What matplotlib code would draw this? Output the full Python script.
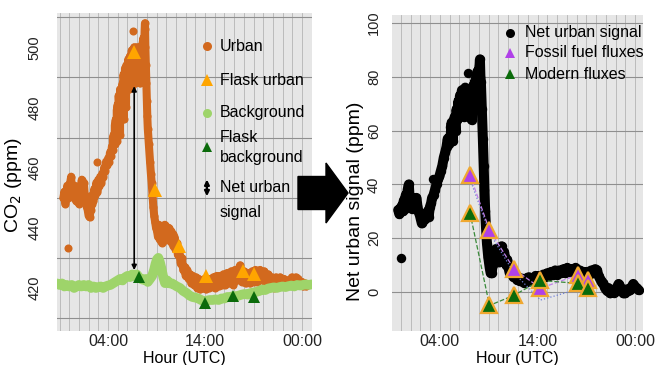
import matplotlib.pyplot as plt
from matplotlib.patches import FancyArrow

plt.rcParams['font.family'] = ['Liberation Sans', 'DejaVu Sans']

#-------------- left panel: CO2 at the urban and background sites

urban_hour = [-0.60, -0.50, -0.40, -0.30, -0.20, -0.10, 0.00, 0.10, 0.20, 0.25,
              0.35, 0.45, 0.55, 0.60, 0.70, 0.80, 0.90, 1.00, 1.10, 1.20,
              1.30, 1.40, 1.50, 1.60, 1.70, 1.80, 1.90, 2.00, 2.10, 2.20,
              2.30, 2.40, 2.50, 2.60, 2.70, 2.80, 2.90, 3.00, 3.10, 3.20,
              3.30, 3.40, 3.50, 3.60, 3.70, 3.80, 3.90, 4.00, 4.10, 4.20,
              4.30, 4.40, 4.50, 4.50, 4.60, 4.70, 4.70, 4.80, 4.90, 4.90,
              5.00, 5.10, 5.10, 5.24, 5.24, 5.35, 5.40, 5.50, 5.60, 5.60,
              5.70, 5.75, 5.85, 5.90, 6.00, 6.10, 6.20, 6.25, 6.35, 6.45,
              6.50, 6.60, 6.70, 6.80, 6.85, 6.95, 7.00, 7.10, 7.15, 7.25,
              7.30, 7.40, 7.50, 7.55, 7.65, 7.70, 7.78, 7.81, 7.85, 7.90,
              7.95, 8.00, 8.05, 8.10, 8.20, 8.33, 8.42, 8.50, 8.58, 8.67,
              8.76, 8.85, 8.95, 9.05, 9.15, 9.25, 9.35, 9.45, 9.55, 9.65,
              9.75, 9.85, 9.95, 10.05, 10.15, 10.25, 10.35, 10.45, 10.55, 10.65,
              10.75, 10.85, 10.95, 11.08, 11.20, 11.35, 11.50, 11.60, 11.76, 11.90,
              12.00, 12.15, 12.30, 12.45, 12.60, 12.75, 12.90, 13.05, 13.20, 13.35,
              13.50, 13.65, 13.80, 13.95, 14.10, 14.25, 14.40, 14.55, 14.70, 14.85,
              15.00, 15.20, 15.40, 15.55, 15.70, 15.90, 16.10, 16.30, 16.50, 16.70,
              16.92, 17.10, 17.30, 17.50, 17.61, 17.80, 18.00, 18.20, 18.40, 18.64,
              18.85, 19.00, 19.20, 19.40, 19.67, 19.90, 20.10, 20.30, 20.50, 20.70,
              20.90, 21.10, 21.30, 21.50, 21.73, 21.95, 22.15, 22.35, 22.55, 22.76,
              22.95, 23.15, 23.35, 23.62, 23.80, 24.00, 24.13, 24.30, 24.45]
urban_co2 = [450, 452, 448, 451, 454, 450, 452, 455, 457, 452,
             453, 450, 454, 451, 449, 453, 451, 448, 452, 454,
             456, 453, 455, 451, 449, 447, 446, 444, 443.5, 446,
             448, 451, 449, 453, 451, 455, 452, 456, 454, 457,
             455, 458, 457, 460, 459, 462, 461, 463, 462, 465,
             464, 467, 466, 470, 471, 468, 474, 476, 469, 479,
             481, 472, 484, 471, 486, 478, 482, 488, 476, 491,
             484, 493, 480, 494, 487, 496, 486, 497, 491, 499,
             487, 494, 500, 488, 497, 491, 500, 489, 496, 493,
             488, 497, 492, 501, 503, 497, 506, 508, 500, 494,
             488, 482, 477, 473, 468, 462, 458, 455, 451, 447,
             444, 442, 440, 439, 437, 441, 436, 439, 435, 440,
             437, 441, 436, 439, 437, 440, 436, 439, 435, 438,
             434, 437, 433, 435, 431, 432, 428, 430, 426, 427,
             424, 426, 423, 424.5, 421.5, 424, 421, 423.5, 420, 423,
             419.5, 422.5, 420, 423, 419.5, 422.5, 420, 423, 420.5, 423.5,
             420, 424, 420.5, 424, 421, 424.5, 421, 425, 421.5, 425.5,
             421, 426, 422.5, 426.5, 427.5, 422, 425.5, 421.5, 425, 421.5,
             425.5, 422, 426, 422, 426, 422.5, 425.5, 421.5, 424.5, 420.5,
             423.5, 420, 423.5, 421, 423.5, 421, 423, 420.5, 422.5, 421,
             423.5, 421, 423.5, 423, 421, 422, 420.5, 421.5, 420.5]
urban_outlier_hour = [-0.12, 2.83, 6.58]
urban_outlier_co2 = [433.3, 462, 505.5]

bg_hour = [-1.25, -1.00, -0.75, -0.50, -0.25, 0.00, 0.25, 0.50, 0.75, 1.00,
           1.25, 1.50, 1.75, 2.00, 2.25, 2.50, 2.75, 3.00, 3.25, 3.50,
           3.75, 4.00, 4.25, 4.50, 4.75, 5.00, 5.25, 5.50, 5.75, 6.00,
           6.27, 6.50, 6.75, 6.96, 7.20, 7.40, 7.64, 7.90, 8.10, 8.33,
           8.55, 8.75, 8.90, 9.05, 9.19, 9.35, 9.54, 9.70, 9.88, 10.10,
           10.35, 10.60, 10.85, 11.10, 11.42, 11.75, 12.11, 12.40, 12.70, 13.00,
           13.30, 13.60, 13.90, 14.18, 14.50, 14.80, 15.10, 15.40, 15.70, 16.00,
           16.30, 16.60, 16.92, 17.20, 17.50, 17.80, 18.10, 18.40, 18.70, 19.00,
           19.30, 19.60, 19.90, 20.20, 20.50, 20.80, 21.10, 21.40, 21.70, 22.00,
           22.30, 22.60, 22.90, 23.20, 23.50, 23.80, 24.10, 24.40, 24.70, 25.00]
bg_co2 = [421.5, 421, 421.5, 420.5, 421, 420.5, 421, 420, 420.5, 421,
          420.5, 421, 420.5, 421, 420, 420.5, 420, 420.3, 420.5, 420,
          420.5, 420.8, 421, 421.5, 422, 422.5, 423, 422.5, 423.5, 424,
          423.6, 424.5, 424, 424.5, 423.5, 423, 422.7, 423, 422, 423,
          424, 426, 428, 429.5, 430, 428.5, 426, 423.5, 421.6, 422.5,
          421.5, 421.5, 421, 420.5, 420, 419, 418.3, 417.5, 417, 416.8,
          416.5, 416, 415.5, 415.8, 416, 416, 416.2, 416, 416.5, 416.5,
          417, 417, 417.3, 417.2, 417.5, 417.8, 418, 417.8, 418.3, 418.5,
          418.7, 419, 419.5, 419.3, 419.8, 420, 420.2, 420, 420.3, 420.5,
          420.3, 420.6, 420.8, 420.5, 421, 420.8, 421, 421.2, 421, 421.2]

flask_urban_hour = [6.70, 8.85, 11.35, 14.10, 17.90, 19.00]
flask_urban_co2 = [498.5, 452.5, 434, 424, 425.5, 424.5]
flask_bg_hour = [7.20, 14.00, 16.92, 19.00]
flask_bg_co2 = [423.5, 415.1, 417.3, 417.1]

net_arrow_hour = 6.7
net_arrow_top = 488
net_arrow_bottom = 425

#-------------- right panel: net urban signal and fluxes

net_hour = [-0.27, -0.15, -0.05, 0.10, 0.20, 0.30, 0.40, 0.50, 0.60, 0.70,
            0.82, 0.90, 1.00, 1.10, 1.20, 1.30, 1.40, 1.50, 1.60, 1.70,
            1.80, 1.95, 2.05, 2.15, 2.29, 2.40, 2.50, 2.63, 2.75, 2.85,
            2.97, 3.10, 3.20, 3.35, 3.50, 3.66, 3.80, 3.95, 4.10, 4.25,
            4.40, 4.55, 4.68, 4.80, 4.90, 5.10, 5.20, 5.30, 5.37, 5.50,
            5.60, 5.71, 5.80, 5.90, 6.00, 6.05, 6.15, 6.25, 6.35, 6.39,
            6.50, 6.60, 6.70, 6.80, 6.95, 7.05, 7.15, 7.25, 7.35, 7.45,
            7.55, 7.65, 7.75, 7.85, 7.95, 8.05, 8.10, 8.15, 8.20, 8.30,
            8.40, 8.48, 8.56, 8.64, 8.72, 8.82, 8.95, 9.10, 9.20, 9.30,
            9.40, 9.50, 9.64, 9.75, 9.85, 9.98, 10.10, 10.20, 10.32, 10.45,
            10.55, 10.67, 10.80, 10.90, 11.00, 11.15, 11.30, 11.52, 11.70, 11.90,
            12.05, 12.20, 12.40, 12.60, 12.80, 12.89, 13.10, 13.30, 13.57, 13.80,
            14.00, 14.20, 14.40, 14.60, 14.80, 15.00, 15.20, 15.40, 15.62, 15.80,
            16.00, 16.20, 16.40, 16.65, 16.85, 17.05, 17.25, 17.45, 17.68, 17.90,
            18.10, 18.30, 18.50, 18.70, 18.90, 19.10, 19.30, 19.50, 19.73, 19.90,
            20.07, 20.25, 20.45, 20.60, 20.75, 20.90, 21.10, 21.25, 21.44, 21.60,
            21.80, 21.95, 22.10, 22.30, 22.46, 22.60, 22.80, 22.97, 23.15, 23.30,
            23.49, 23.65, 23.80, 24.00, 24.15, 24.34]
net_signal = [30.5, 29, 31, 32, 30, 34, 31, 36, 33, 38,
              40, 35, 33, 31, 33, 35, 32, 34, 35, 32,
              30, 28.5, 27, 25.5, 26.5, 28, 27, 29, 30, 28,
              31.5, 33, 35, 36, 38, 40, 42, 43, 45, 47,
              50, 52, 54, 57, 55, 58, 63, 56, 59, 65,
              60, 68, 64, 71, 66, 73, 68, 75, 70, 74,
              65, 76, 70, 66, 72, 68, 75, 64, 70, 77,
              69, 79, 74, 82, 78, 84, 86.5, 80, 78, 68,
              57, 47, 38, 30, 24, 18, 13, 9, 7, 7,
              10, 14, 13, 16, 12, 14.4, 11, 16, 17, 12,
              15, 13, 10, 12, 9.4, 7, 8, 5.7, 6, 4.5,
              5.5, 4, 5, 3.5, 5, 3.8, 5.5, 4, 5, 6,
              4.5, 6, 5, 6.5, 5.5, 7, 6, 7.5, 6.3, 8,
              6.5, 8, 7, 8.5, 7, 9, 7.5, 8.5, 7.6, 9,
              7, 8, 6.5, 7.5, 6, 7.5, 6.5, 8, 7, 8.5,
              8.2, 6, 4.5, 3.5, 3.2, 1.5, 0.5, 1.5, -0.5, 0.8,
              -0.2, 0.1, 1.5, 3, 2, 0.5, -0.5, -0.5, 1, 0.5,
              0.7, 2, 3, 2, 1.5, 0.7]
net_outlier_hour = [0.07, 3.30, 5.03, 6.90]
net_outlier_signal = [12.8, 42, 61.5, 81.5]

flux_hour = [7.08, 9.08, 11.60, 14.30, 18.12, 19.15]
fossil_flux = [43.5, 23, 8.5, 1.4, 6.3, 4.5]
modern_flux = [29.5, -5, -1.2, 4.3, 3.2, 1.4]
fossil_low = [42, 22, 7, -3, 1, 1]

hour_ticks = [4, 14, 24]
hour_labels = ['04:00', '14:00', '00:00']

#-------------- figure

fig = plt.figure(figsize=(6.56, 3.65), dpi=100)
ax1 = fig.add_axes([0.0869, 0.0932, 0.3887, 0.8712])
ax2 = fig.add_axes([0.5976, 0.0932, 0.3826, 0.8658])

panel_bg = '#e6e6e6'
for ax in (ax1, ax2):
    ax.set_facecolor(panel_bg)
    for s in ax.spines.values():
        s.set_visible(False)
    ax.set_xticks(hour_ticks)
    ax.set_xticklabels(hour_labels)
    ax.set_xticks(range(-1, 26), minor=True)
    ax.grid(axis='x', which='both', color='#b4b4b4', lw=0.6)
    ax.tick_params(which='both', length=0, colors='#222222')
    ax.tick_params(axis='x', pad=2, labelsize=11.5)
    ax.tick_params(axis='y', labelsize=10.5)
    ax.set_xlabel('Hour (UTC)', fontsize=11.5, labelpad=1.5)
    ax.set_axisbelow(True)

band = dict(solid_joinstyle='round', solid_capstyle='round')

# left
ax1.set_xlim(-1.26, 25.03)
ax1.set_ylim(405.7, 511.4)
ax1.set_yticks([420, 440, 460, 480, 500])
ax1.set_yticks([410, 430, 450, 470, 490, 510], minor=True)
ax1.grid(axis='y', which='minor', color='#8f8f8f', lw=0.8)
ax1.tick_params(axis='y', pad=11)
plt.setp(ax1.get_yticklabels(), rotation=90, va='center')
ax1.set_ylabel('CO$_2$ (ppm)', fontsize=14)
ax1.yaxis.set_label_coords(-0.1275, 0.459)

urban_col = '#d2691e'
bg_col = '#9ed46a'
ax1.plot(urban_hour, urban_co2, '-o', color=urban_col, lw=5.8, ms=5.8, mew=0, zorder=3, **band)
ax1.plot(urban_outlier_hour, urban_outlier_co2, 'o', color=urban_col, ms=5.8, mew=0, zorder=3)
ax1.plot(bg_hour, bg_co2, '-', color=bg_col, lw=7, zorder=4, **band)
ax1.plot(flask_urban_hour, flask_urban_co2, '^', color='#ffa500', ms=10, mew=0, zorder=5)
ax1.plot(flask_bg_hour, flask_bg_co2, '^', color='#0b6b0b', ms=8, mew=0, zorder=5)
ax1.annotate('', xy=(net_arrow_hour, net_arrow_top), xytext=(net_arrow_hour, net_arrow_bottom),
             arrowprops=dict(arrowstyle='<|-|>', color='black', lw=1.2, mutation_scale=7),
             zorder=6)

# left legend
tf = ax1.transAxes
ax1.plot([0.588], [0.896], 'o', color=urban_col, ms=6.5, mew=0, transform=tf, zorder=7)
ax1.plot([0.588], [0.789], '^', color='#ffa500', ms=8, mew=0, transform=tf, zorder=7)
ax1.plot([0.588], [0.686], 'o', color=bg_col, ms=6.5, mew=0, transform=tf, zorder=7)
ax1.plot([0.588], [0.579], '^', color='#0b6b0b', ms=6.5, mew=0, transform=tf, zorder=7)
ax1.annotate('', xy=(0.588, 0.485), xytext=(0.588, 0.415), xycoords='axes fraction',
             arrowprops=dict(arrowstyle='<|-|>', color='black', lw=1.6, mutation_scale=7),
             zorder=7)
for txt, y in [('Urban', 0.896), ('Flask urban', 0.789), ('Background', 0.686),
               ('Flask', 0.607), ('background', 0.544), ('Net urban', 0.450), ('signal', 0.374)]:
    ax1.text(0.639, y, txt, transform=tf, fontsize=11.5, va='center', ha='left', zorder=7)

# right
ax2.set_xlim(-0.9, 24.8)
ax2.set_ylim(-14.5, 103)
ax2.set_yticks([0, 20, 40, 60, 80, 100])
ax2.grid(axis='y', which='major', color='#8f8f8f', lw=0.8)
ax2.tick_params(axis='y', pad=8)
plt.setp(ax2.get_yticklabels(), rotation=90, va='center')
ax2.set_ylabel('Net urban signal (ppm)', fontsize=14)
ax2.yaxis.set_label_coords(-0.1135, 0.411)

ax2.plot(net_hour, net_signal, '-o', color='black', lw=7.2, ms=6.8, mew=0, zorder=3, **band)
ax2.plot(net_outlier_hour, net_outlier_signal, 'o', color='black', ms=6.8, mew=0, zorder=3)
ax2.plot(flux_hour, fossil_low, ':', color='#6f7fd8', lw=0.9, zorder=4)
ax2.plot(flux_hour, fossil_flux, '--', color='#c080e8', lw=0.9, zorder=4)
ax2.plot(flux_hour, modern_flux, '--', color='#3a8a3a', lw=0.9, zorder=4)
ax2.plot(flux_hour, fossil_flux, '^', color='#b040e8', ms=12, mec='#f0a830', mew=1.6, zorder=5)
ax2.plot(flux_hour, modern_flux, '^', color='#0b6b0b', ms=12, mec='#f0a830', mew=1.6, zorder=6)

tf2 = ax2.transAxes
ax2.plot([0.470], [0.943], 'o', color='black', ms=6.5, mew=0, transform=tf2, zorder=7)
ax2.plot([0.470], [0.880], '^', color='#b040e8', ms=7.5, mew=0, transform=tf2, zorder=7)
ax2.plot([0.470], [0.813], '^', color='#0b6b0b', ms=7.5, mew=0, transform=tf2, zorder=7)
for txt, y in [('Net urban signal', 0.943), ('Fossil fuel fluxes', 0.880), ('Modern fluxes', 0.813)]:
    ax2.text(0.530, y, txt, transform=tf2, fontsize=11.5, va='center', ha='left', zorder=7)

# big arrow between the panels
fig.add_artist(FancyArrow(298 / 656, 1 - 193 / 365, 50 / 656, 0, width=33 / 365,
                          head_width=60 / 365, head_length=22 / 656,
                          length_includes_head=True, color='black',
                          transform=fig.transFigure, zorder=10))

fig.savefig('out.png', dpi=100)
